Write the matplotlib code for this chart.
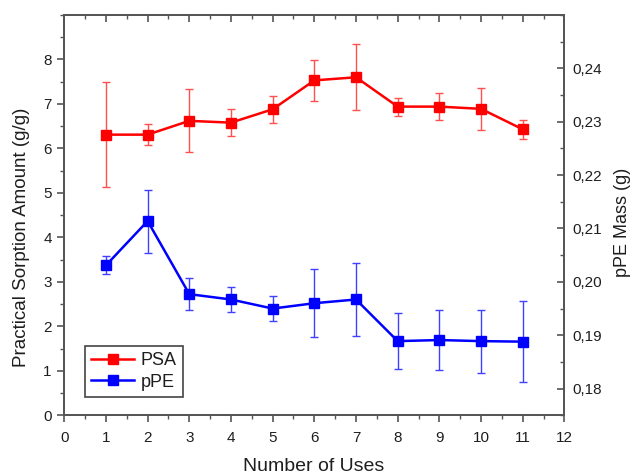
import matplotlib.pyplot as plt
from matplotlib.lines import Line2D
from matplotlib.ticker import MultipleLocator, FuncFormatter

plt.rcParams['font.family'] = ['Liberation Sans', 'DejaVu Sans']

# number of uses
uses = [1, 2, 3, 4, 5, 6, 7, 8, 9, 10, 11]

# practical sorption amount (g/g) with error
psa = [6.31, 6.31, 6.62, 6.58, 6.88, 7.53, 7.60, 6.94, 6.94, 6.89, 6.43]
psa_err = [1.18, 0.24, 0.71, 0.31, 0.30, 0.46, 0.74, 0.20, 0.30, 0.47, 0.21]

# pPE mass (g) with error
ppe = [0.2031, 0.2114, 0.1977, 0.1967, 0.1950, 0.1960, 0.1967, 0.1889, 0.1891, 0.1889, 0.1888]
ppe_err = [0.0017, 0.0059, 0.0030, 0.0024, 0.0023, 0.0064, 0.0069, 0.0053, 0.0056, 0.0059, 0.0076]

left_ticks = [0, 1, 2, 3, 4, 5, 6, 7, 8]
right_ticks = [0.18, 0.19, 0.20, 0.21, 0.22, 0.23, 0.24]

text_c = '#1e1e1e'
spine_c = '#555555'

fig = plt.figure(figsize=(6.32, 4.76), dpi=100)
ax = fig.add_axes([0.1017, 0.1275, 0.7913, 0.841])
ax2 = ax.twinx()

ax.errorbar(uses, psa, yerr=psa_err, color='#ff0000', ecolor='#ff5050',
            elinewidth=1.0, capsize=3, capthick=1.0, lw=1.8,
            marker='s', ms=6.5)
ax2.errorbar(uses, ppe, yerr=ppe_err, color='#0000ff', ecolor='#4040ff',
             elinewidth=1.0, capsize=3, capthick=1.0, lw=1.8,
             marker='s', ms=6.5)

ax.set_xlim(0, 12)
ax.set_ylim(0, 9)
ax2.set_ylim(0.175, 0.25)

ax.xaxis.set_major_locator(MultipleLocator(1))
ax.xaxis.set_minor_locator(MultipleLocator(0.5))
ax.set_yticks(left_ticks)
ax.yaxis.set_minor_locator(MultipleLocator(0.5))
ax2.set_yticks(right_ticks)
ax2.yaxis.set_minor_locator(MultipleLocator(0.005))
ax2.yaxis.set_major_formatter(FuncFormatter(lambda v, p: f'{v:.2f}'.replace('.', ',')))

for a in (ax, ax2):
    for s in a.spines.values():
        s.set_color(spine_c)
        s.set_linewidth(1.3)

ax.tick_params(axis='x', which='both', direction='out', top=False, colors=spine_c,
               labelcolor=text_c, labelsize=11, pad=6)
ax.tick_params(axis='y', which='both', direction='out', colors=spine_c,
               labelcolor=text_c, labelsize=11, pad=4)
ax.tick_params(which='major', length=5, width=1.2)
ax.tick_params(which='minor', length=3, width=1.0)

# right axis and top axis ticks point inward
ax2.xaxis.set_visible(True)
ax2.tick_params(axis='x', which='both', direction='in', top=True, bottom=False,
                labeltop=False, labelbottom=False, colors=spine_c)
ax2.tick_params(axis='y', which='both', direction='in', colors=spine_c,
                labelcolor=text_c, labelsize=11, pad=6)
ax2.tick_params(which='major', length=5, width=1.2)
ax2.tick_params(which='minor', length=3, width=1.0)

ax.set_xlabel('Number of Uses', fontsize=14, color=text_c)
ax.xaxis.label.set_va('center')
ax.xaxis.set_label_coords(0.4994, -0.127)
ax.set_ylabel('Practical Sorption Amount (g/g)', fontsize=13.5, color=text_c)
ax.yaxis.label.set_va('center')
ax.yaxis.set_label_coords(-0.0846, 0.445)
ax2.set_ylabel('pPE Mass (g)', fontsize=13, color=text_c)
ax2.yaxis.label.set_va('center')
ax2.yaxis.set_label_coords(1.117, 0.483)

handles = [Line2D([], [], color='#ff0000', lw=1.8, marker='s', ms=6.5),
           Line2D([], [], color='#0000ff', lw=1.8, marker='s', ms=6.5)]
leg = ax2.legend(handles, ['PSA', 'pPE'], loc='lower left',
                 bbox_to_anchor=(0.041, 0.046), borderaxespad=0, fontsize=13,
                 fancybox=False, framealpha=1, edgecolor='#444444',
                 handlelength=2.4, handletextpad=0.35, labelspacing=0.25,
                 borderpad=0.35)
leg.get_frame().set_linewidth(1.2)
for t in leg.get_texts():
    t.set_color(text_c)

fig.savefig('out.png', dpi=100)
